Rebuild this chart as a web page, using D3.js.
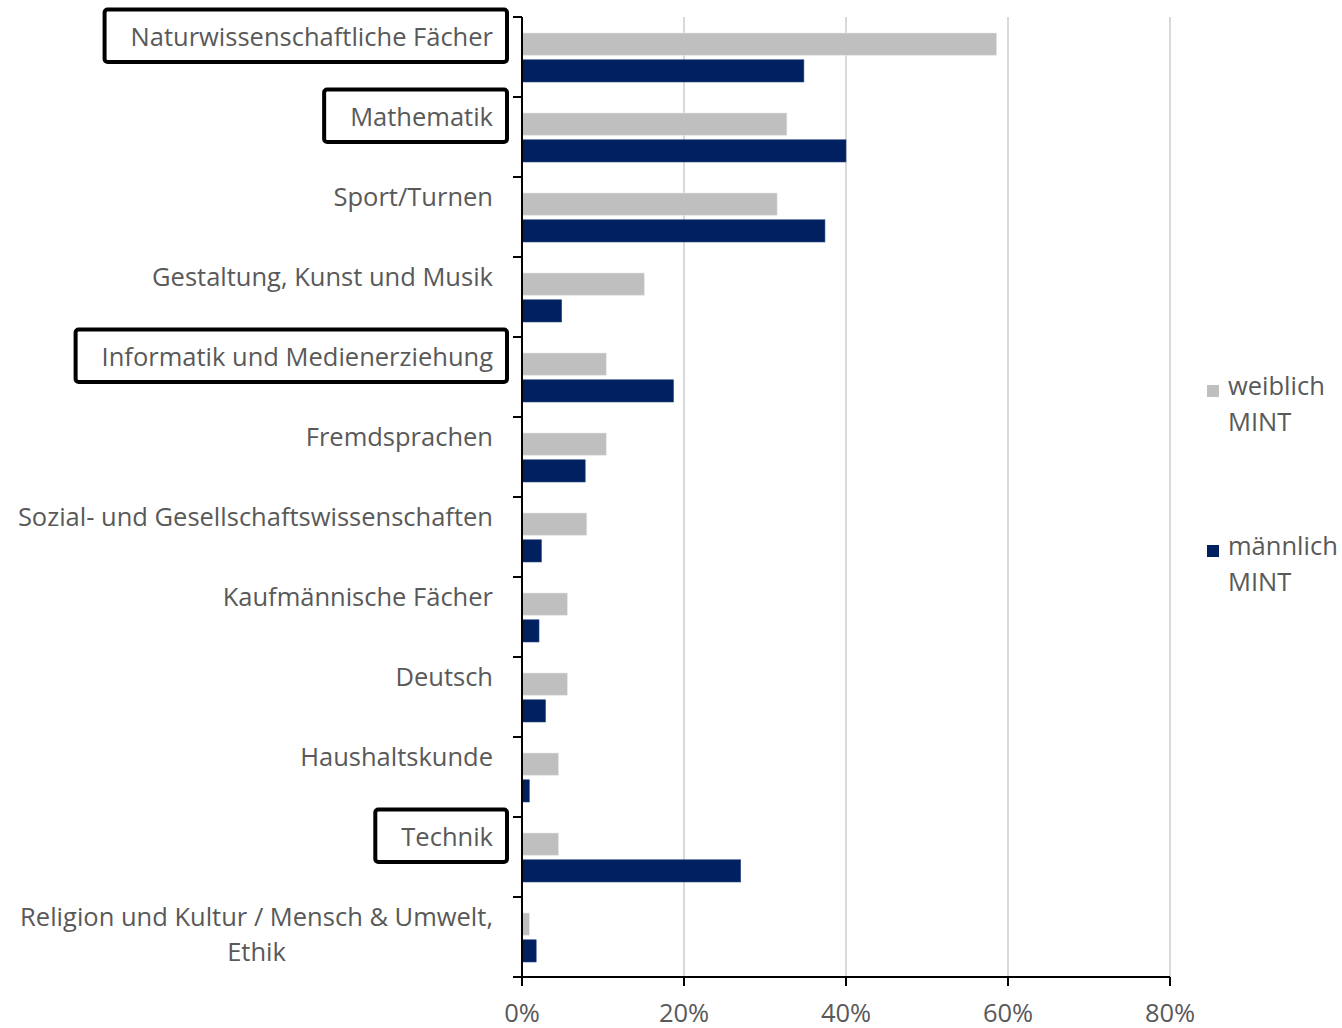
<!DOCTYPE html>
<html><head><meta charset="utf-8">
<script src="https://cdn.jsdelivr.net/npm/d3@7"></script>
<style>
html,body{margin:0;padding:0;background:#fff;}
svg{display:block;font-family:"Open Sans",sans-serif;}
</style></head>
<body>
<svg id="chart" width="1342" height="1028"></svg>
<script>
const categories = ["Naturwissenschaftliche Fächer","Mathematik","Sport/Turnen","Gestaltung, Kunst und Musik","Informatik und Medienerziehung","Fremdsprachen","Sozial- und Gesellschaftswissenschaften","Kaufmännische Fächer","Deutsch","Haushaltskunde","Technik","Religion und Kultur / Mensch & Umwelt,|Ethik"];
const weiblichMINT = [58.6, 32.7, 31.5, 15.1, 10.4, 10.4, 8.0, 5.6, 5.6, 4.5, 4.5, 0.9];
const maennlichMINT = [34.8, 40.0, 37.4, 4.9, 18.7, 7.8, 2.4, 2.1, 2.9, 0.9, 27.0, 1.75];
const highlighted = ["Naturwissenschaftliche Fächer","Mathematik","Informatik und Medienerziehung","Technik"];
const seriesNames = ["weiblich MINT","männlich MINT"];
const seriesColors = ["#bfbfbf","#002060"];
const xTicks = [0, 20, 40, 60, 80];
const xTickLabels = ["0%","20%","40%","60%","80%"];

const svg = d3.select("#chart");
const textColor = "#595959";

const x = d3.scaleLinear().domain([0, 80]).range([522, 1170]);
const y = d3.scaleBand().domain(categories).range([17, 977]).padding(0);
const ySub = d3.scaleBand().domain(seriesNames).range([16, 65]).paddingInner(0.17);

// fit font size (Calibri substitute)
const probe = svg.append("text").attr("font-size", 100).text("Naturwissenschaftliche Fächer");
const w100 = probe.node().getComputedTextLength();
probe.remove();
const fs = Math.round(100 * 362 / w100 * 10) / 10;

// gridlines
svg.append("g").selectAll("line").data(xTicks.filter(d => d > 0)).join("line")
  .attr("x1", d => x(d)).attr("x2", d => x(d))
  .attr("y1", 17).attr("y2", 977)
  .attr("stroke", "#d9d9d9").attr("stroke-width", 2);

// bars
const data = categories.map((c, i) => ({cat: c, vals: [weiblichMINT[i], maennlichMINT[i]]}));
const g = svg.append("g");
data.forEach(d => {
  d.vals.forEach((v, j) => {
    g.append("rect")
      .attr("x", x(0))
      .attr("y", y(d.cat) + ySub(seriesNames[j]))
      .attr("width", x(v) - x(0))
      .attr("height", ySub.bandwidth())
      .attr("fill", seriesColors[j])
      .attr("stroke", j === 0 ? "#e6e6e6" : "#2f4a86")
      .attr("stroke-width", 0.6);
  });
});

// y axis
const yAxis = svg.append("g");
yAxis.append("line").attr("x1", x(0)).attr("x2", x(0)).attr("y1", 17).attr("y2", 986)
  .attr("stroke", "#000").attr("stroke-width", 2);
const edges = categories.map(c => y(c)).concat([977]);
yAxis.selectAll("line.tick").data(edges).join("line").attr("class","tick")
  .attr("x1", 513).attr("x2", x(0)).attr("y1", d => d).attr("y2", d => d)
  .attr("stroke", "#000").attr("stroke-width", 2);

// x axis
const xAxis = svg.append("g");
xAxis.append("line").attr("x1", 513).attr("x2", x(80)).attr("y1", 977).attr("y2", 977)
  .attr("stroke", "#000").attr("stroke-width", 2);
xAxis.selectAll("line.tick").data(xTicks).join("line").attr("class","tick")
  .attr("x1", d => x(d)).attr("x2", d => x(d)).attr("y1", 977).attr("y2", 986)
  .attr("stroke", "#000").attr("stroke-width", 2);
xAxis.selectAll("text").data(xTicks).join("text")
  .attr("x", d => x(d)).attr("y", 1012)
  .attr("text-anchor", "middle").attr("dominant-baseline", "central")
  .attr("font-size", fs).attr("fill", textColor)
  .text((d, i) => xTickLabels[i]);

// category labels
const labels = svg.append("g");
categories.forEach(c => {
  const lines = c.split("|");
  const top = y(c);
  if (lines.length === 1) {
    const t = labels.append("text")
      .attr("x", 493).attr("y", top + 19)
      .attr("text-anchor", "end").attr("dominant-baseline", "central")
      .attr("font-size", fs).attr("fill", textColor).text(lines[0]);
    if (highlighted.includes(c)) {
      const bb = t.node().getBBox();
      labels.append("rect")
        .attr("x", bb.x - 26).attr("y", top - 7.5)
        .attr("width", 507 - (bb.x - 26)).attr("height", 52.5)
        .attr("fill", "none").attr("stroke", "#000").attr("stroke-width", 4).attr("rx", 3);
    }
  } else {
    const t1 = labels.append("text")
      .attr("x", 493).attr("y", top + 19)
      .attr("text-anchor", "end").attr("dominant-baseline", "central")
      .attr("font-size", fs).attr("fill", textColor).text(lines[0]);
    const w1 = t1.node().getComputedTextLength();
    labels.append("text")
      .attr("x", 493 - w1 / 2).attr("y", top + 54)
      .attr("text-anchor", "middle").attr("dominant-baseline", "central")
      .attr("font-size", fs).attr("fill", textColor).text(lines[1]);
  }
});

// legend
const legendY = [391, 551];
const legend = svg.append("g");
seriesNames.forEach((s, i) => {
  const parts = s.split(" ");
  legend.append("rect").attr("x", 1207).attr("y", legendY[i] - 6).attr("width", 12).attr("height", 12)
    .attr("fill", seriesColors[i]);
  parts.forEach((p, k) => {
    legend.append("text").attr("x", 1228).attr("y", legendY[i] - 6 + k * 36)
      .attr("dominant-baseline", "central")
      .attr("font-size", fs).attr("fill", textColor).text(p);
  });
});
</script>
</body></html>
